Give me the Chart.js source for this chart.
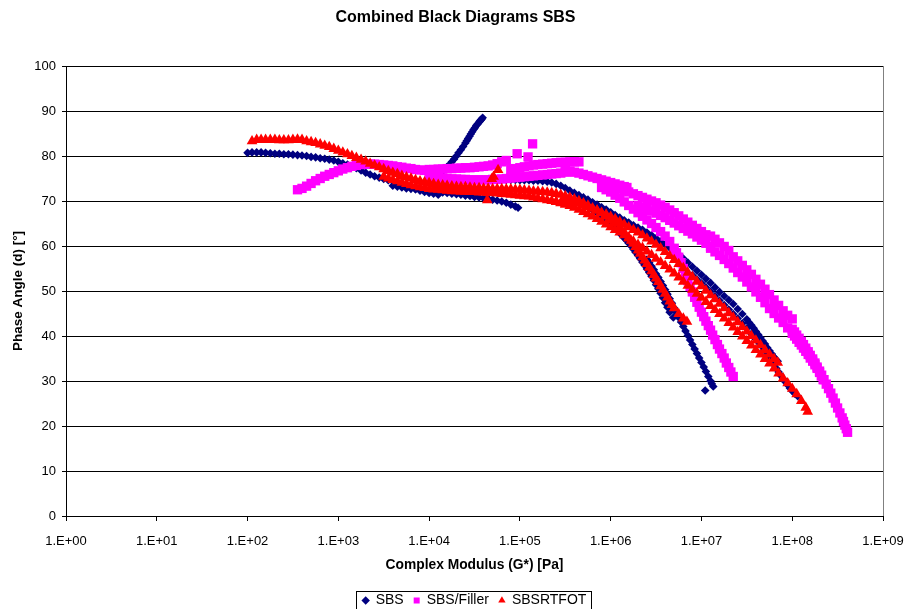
<!DOCTYPE html>
<html>
<head>
<meta charset="utf-8">
<script src="https://cdn.jsdelivr.net/npm/chart.js@4.4.1/dist/chart.umd.min.js"></script>
<style>html,body{margin:0;padding:0;background:#fff;}canvas{display:block;}</style>
</head>
<body>
<canvas id="c" width="907" height="609"></canvas>
<script>
// ---------- data (Complex modulus G* [Pa], phase angle [deg]) ----------
const chartTitle = 'Combined Black Diagrams SBS';
const xAxisTitle = 'Complex Modulus (G*) [Pa]';
const yAxisTitle = 'Phase Angle (d) [°]';
const seriesNames = ['SBS', 'SBS/Filler', 'SBSRTFOT'];
const xTickValues = [1e0, 1e1, 1e2, 1e3, 1e4, 1e5, 1e6, 1e7, 1e8, 1e9];
const yRange = [0, 100, 10];

// SBS
const sbsSeg1 = [[1.00e2,80.7],[1.12e2,80.8],[1.26e2,80.8],[1.41e2,80.8],[1.58e2,80.7],[1.78e2,80.6],[2.00e2,80.5],[2.24e2,80.5],[2.51e2,80.4],[2.82e2,80.4],[3.16e2,80.3],[3.55e2,80.2],[3.98e2,80.1],[4.47e2,80.0],[5.01e2,79.8],[5.62e2,79.7],[6.31e2,79.5],[7.08e2,79.4],[7.94e2,79.2],[8.91e2,79.0],[1.00e3,78.7],[1.12e3,78.4],[1.26e3,78.1],[1.41e3,77.7],[1.58e3,77.3],[1.78e3,76.8],[2.00e3,76.3],[2.24e3,75.9],[2.51e3,75.5],[2.82e3,75.2],[3.16e3,74.9],[3.55e3,74.6],[3.98e3,74.4],[4.47e3,74.2],[5.01e3,73.8],[5.62e3,73.4],[6.31e3,73.0],[7.08e3,72.6],[7.94e3,72.3],[8.91e3,72.0],[1.00e4,71.8],[1.12e4,71.6],[1.26e4,71.4]];
const sbsSeg2 = [[3.98e3,73.4],[4.47e3,73.2],[5.01e3,73.0],[5.62e3,72.8],[6.31e3,72.7],[7.08e3,72.6],[7.94e3,72.5],[8.91e3,72.4],[1.00e4,72.3],[1.12e4,72.2],[1.26e4,72.0],[1.41e4,71.9],[1.58e4,71.8],[1.78e4,71.6],[2.00e4,71.5],[2.24e4,71.4],[2.51e4,71.2],[2.82e4,71.1],[3.16e4,70.9],[3.55e4,70.8],[3.98e4,70.6],[4.47e4,70.5],[5.01e4,70.3],[5.62e4,70.1],[6.31e4,69.9],[7.08e4,69.6],[7.94e4,69.2],[8.91e4,68.8],[9.55e4,68.5]];
const sbsSeg3 = [[1.00e4,74.0],[1.12e4,74.8],[1.26e4,75.7],[1.41e4,76.6],[1.58e4,77.6],[1.68e4,78.1],[1.78e4,78.7],[1.88e4,79.3],[2.00e4,80.0],[2.11e4,80.7],[2.24e4,81.4],[2.37e4,82.1],[2.51e4,82.9],[2.60e4,83.4],[2.69e4,83.9],[2.79e4,84.4],[2.88e4,84.9],[2.99e4,85.4],[3.09e4,85.9],[3.20e4,86.3],[3.31e4,86.8],[3.43e4,87.1],[3.55e4,87.5],[3.63e4,87.8],[3.72e4,88.0],[3.80e4,88.2],[3.89e4,88.5]];
const sbsSeg4 = [[5.01e4,74.7],[5.62e4,74.7],[6.31e4,74.7],[7.08e4,74.7],[7.94e4,74.7],[8.91e4,74.7],[1.00e5,74.6],[1.12e5,74.6],[1.26e5,74.6],[1.41e5,74.5],[1.58e5,74.5],[1.78e5,74.4],[2.00e5,74.3],[2.24e5,74.1],[2.51e5,73.8],[2.82e5,73.4],[3.16e5,72.9],[3.55e5,72.3],[3.98e5,71.8],[4.47e5,71.3],[5.01e5,70.8],[5.62e5,70.3],[6.31e5,69.7],[7.08e5,69.2],[7.94e5,68.6],[8.91e5,68.1],[1.00e6,67.5],[1.12e6,66.9],[1.26e6,66.3],[1.41e6,65.7],[1.58e6,65.2],[1.78e6,64.6],[2.00e6,64.1],[2.24e6,63.6],[2.51e6,63.0],[2.82e6,62.4],[3.16e6,61.7],[3.55e6,61.0],[3.98e6,60.3],[4.47e6,59.6],[5.01e6,58.9],[5.62e6,58.1],[6.31e6,57.2],[7.08e6,56.3],[7.94e6,55.4],[8.91e6,54.5],[1.00e7,53.6],[1.12e7,52.7],[1.26e7,51.8],[1.41e7,50.8],[1.58e7,49.8],[1.78e7,48.9],[2.00e7,48.0],[2.24e7,47.1],[2.51e7,46.0],[2.82e7,44.9],[3.16e7,43.7],[3.35e7,43.0],[3.55e7,42.4],[3.76e7,41.7],[3.98e7,41.0],[4.22e7,40.3],[4.47e7,39.6],[4.73e7,38.9],[5.01e7,38.2],[5.31e7,37.4],[5.62e7,36.7],[5.96e7,36.0],[6.31e7,35.3],[6.61e7,34.8],[6.92e7,34.4]];
const sbsSeg5 = [[7.94e6,53.5],[8.91e6,52.6],[1.00e7,51.7],[1.12e7,50.8],[1.26e7,49.9],[1.41e7,48.9],[1.58e7,47.9],[1.78e7,46.9],[2.00e7,45.9],[2.24e7,44.9],[2.51e7,43.9],[2.82e7,42.8],[3.16e7,41.7],[3.55e7,40.5],[3.76e7,39.9],[3.98e7,39.3],[4.22e7,38.7],[4.47e7,38.1],[4.73e7,37.5],[5.01e7,36.8],[5.31e7,36.0],[5.62e7,35.2],[5.96e7,34.4],[6.31e7,33.6],[6.68e7,32.8],[7.08e7,32.0],[7.50e7,31.2],[7.94e7,30.5],[8.41e7,29.8],[8.91e7,29.1],[9.44e7,28.4],[1.00e8,27.8],[1.07e8,27.2],[1.15e8,26.6]];
const sbsSeg6 = [[6.31e5,68.0],[7.08e5,67.4],[7.94e5,66.7],[8.91e5,65.9],[1.00e6,64.9],[1.12e6,63.9],[1.26e6,62.9],[1.33e6,62.4],[1.41e6,61.8],[1.50e6,61.2],[1.58e6,60.6],[1.68e6,60.0],[1.78e6,59.3],[1.88e6,58.6],[2.00e6,57.9],[2.11e6,57.2],[2.24e6,56.4],[2.37e6,55.7],[2.51e6,54.9],[2.66e6,54.1],[2.82e6,53.3],[2.99e6,52.4],[3.16e6,51.4],[3.35e6,50.5],[3.55e6,49.5],[3.76e6,48.5],[3.98e6,47.4],[4.22e6,46.4],[4.47e6,45.3],[4.90e6,44.1]];
const sbsSeg7 = [[2.51e6,57.0],[2.66e6,56.3],[2.82e6,55.5],[2.99e6,54.7],[3.16e6,53.8],[3.35e6,53.0],[3.55e6,52.1],[3.76e6,51.2],[3.98e6,50.3],[4.22e6,49.3],[4.47e6,48.3],[4.73e6,47.3],[5.01e6,46.2],[5.31e6,45.2],[5.62e6,44.1],[5.96e6,43.1],[6.31e6,42.1],[6.68e6,41.1],[7.08e6,40.1],[7.50e6,39.1],[7.94e6,38.1],[8.41e6,37.1],[8.91e6,36.1],[9.44e6,35.1],[1.00e7,34.1],[1.06e7,33.1],[1.12e7,32.1],[1.19e7,31.0],[1.26e7,30.0],[1.30e7,29.4],[1.35e7,28.8],[1.10e7,27.9]];

// SBS/Filler
const filSeg1 = [[3.55e2,72.5],[3.98e2,72.8],[4.47e2,73.3],[5.01e2,73.9],[5.62e2,74.5],[6.31e2,75.0],[7.08e2,75.5],[7.94e2,75.9],[8.91e2,76.3],[1.00e3,76.7],[1.12e3,77.1],[1.26e3,77.4],[1.41e3,77.7],[1.58e3,77.9],[1.78e3,78.1],[2.00e3,78.2],[2.24e3,78.2],[2.51e3,78.2],[2.82e3,78.1],[3.16e3,78.0],[3.55e3,77.9],[3.98e3,77.8],[4.47e3,77.6],[5.01e3,77.5],[5.62e3,77.3],[6.31e3,77.2],[7.08e3,77.0],[7.94e3,76.9],[8.91e3,76.8],[1.00e4,76.7]];
const filSeg2 = [[1.00e4,77.0],[1.12e4,77.0],[1.26e4,77.1],[1.41e4,77.1],[1.58e4,77.2],[1.78e4,77.2],[2.00e4,77.3],[2.24e4,77.3],[2.51e4,77.4],[2.82e4,77.4],[3.16e4,77.5],[3.55e4,77.6],[3.98e4,77.7],[4.47e4,77.8],[5.01e4,78.0],[5.62e4,78.3],[6.31e4,78.7],[7.08e4,79.0],[9.33e4,80.5],[1.23e5,79.8],[1.38e5,82.7]];
const filSeg3 = [[1.00e4,75.4],[1.12e4,75.3],[1.26e4,75.2],[1.41e4,75.1],[1.58e4,75.0],[1.78e4,74.9],[2.00e4,74.9],[2.24e4,74.8],[2.51e4,74.8],[2.82e4,74.7],[3.16e4,74.7],[3.55e4,74.7],[3.98e4,74.7],[4.47e4,74.7],[5.01e4,74.8],[5.62e4,74.8],[6.31e4,74.9],[7.08e4,75.0],[7.94e4,75.1],[8.91e4,75.2],[1.00e5,75.3],[1.12e5,75.4],[1.26e5,75.5],[1.41e5,75.6],[1.58e5,75.7],[1.78e5,75.8],[2.00e5,75.9],[2.24e5,76.0],[2.51e5,76.1],[2.82e5,76.2],[3.16e5,76.4],[3.55e5,76.6]];
const filSeg4 = [[7.94e4,77.0],[8.91e4,77.2],[1.00e5,77.4],[1.12e5,77.6],[1.26e5,77.8],[1.41e5,78.0],[1.58e5,78.1],[1.78e5,78.2],[2.00e5,78.3],[2.24e5,78.4],[2.51e5,78.5],[2.82e5,78.6],[3.16e5,78.6],[3.55e5,78.7],[3.98e5,78.7],[4.47e5,78.7]];
const filSeg5 = [[3.16e5,76.8],[3.55e5,76.6],[3.98e5,76.4],[4.47e5,76.2],[5.01e5,75.9],[5.62e5,75.6],[6.31e5,75.3],[7.08e5,75.0],[7.94e5,74.7],[8.91e5,74.4],[1.00e6,74.1],[1.12e6,73.8],[1.26e6,73.5],[1.41e6,73.2],[1.51e6,73.0]];
const filSeg6 = [[1.00e6,73.3],[1.12e6,73.0],[1.26e6,72.7],[1.41e6,72.4],[1.58e6,72.0],[1.78e6,71.6],[2.00e6,71.2],[2.24e6,70.8],[2.51e6,70.4],[2.82e6,70.0],[3.16e6,69.6],[3.55e6,69.1],[3.98e6,68.6],[4.47e6,68.0],[5.01e6,67.4],[5.62e6,66.7],[6.31e6,66.0],[7.08e6,65.3],[7.94e6,64.6],[8.91e6,63.9],[1.00e7,63.2],[1.12e7,62.5],[1.26e7,62.2],[1.41e7,61.5],[1.58e7,60.7],[1.78e7,59.9],[2.00e7,59.0],[2.24e7,57.6],[2.51e7,56.7],[2.82e7,55.7],[3.16e7,54.7],[3.55e7,53.7],[3.98e7,52.6],[4.47e7,51.5],[5.01e7,50.4],[5.62e7,49.2],[6.31e7,48.0],[7.08e7,46.8],[7.94e7,45.6],[8.91e7,44.6],[1.00e8,43.8]];
const filSeg7 = [[1.26e7,59.5],[1.41e7,58.7],[1.58e7,57.9],[1.78e7,57.0],[2.00e7,56.1],[2.24e7,55.1],[2.51e7,54.1],[2.82e7,53.1],[3.16e7,52.0],[3.55e7,50.9],[3.98e7,49.8],[4.47e7,48.6],[5.01e7,47.4],[5.62e7,46.1],[6.31e7,45.0],[7.08e7,44.0],[7.94e7,43.0],[8.91e7,41.8],[1.00e8,40.6],[1.06e8,40.0],[1.12e8,39.3],[1.19e8,38.6],[1.26e8,38.0],[1.33e8,37.3],[1.41e8,36.6],[1.50e8,35.9],[1.58e8,35.1],[1.68e8,34.4],[1.78e8,33.6],[1.88e8,32.8],[2.00e8,31.9],[2.09e8,31.1],[2.19e8,30.3]];
const filSeg8 = [[1.00e8,41.5],[1.06e8,40.9],[1.12e8,40.2],[1.19e8,39.5],[1.26e8,38.8],[1.33e8,38.1],[1.41e8,37.3],[1.50e8,36.5],[1.58e8,35.7],[1.68e8,34.9],[1.78e8,34.0],[1.88e8,33.1],[2.00e8,32.2],[2.11e8,31.3],[2.24e8,30.3],[2.37e8,29.3],[2.51e8,28.3],[2.66e8,27.3],[2.82e8,26.2],[2.99e8,25.1],[3.16e8,24.0],[3.35e8,22.9],[3.55e8,21.8],[3.67e8,21.0],[3.80e8,20.2],[3.94e8,19.4],[4.07e8,18.6]];
const filSeg9 = [[7.94e5,73.0],[8.91e5,72.5],[1.00e6,72.0],[1.12e6,71.3],[1.26e6,70.6],[1.41e6,69.8],[1.58e6,69.0],[1.78e6,68.2],[2.00e6,67.4],[2.24e6,66.6],[2.51e6,65.8],[2.82e6,65.0],[3.16e6,64.1],[3.55e6,63.2],[3.98e6,62.2],[4.47e6,61.0],[5.01e6,59.5],[5.31e6,58.5],[5.62e6,57.5],[5.96e6,56.3],[6.31e6,55.0],[6.68e6,53.6],[7.08e6,52.3],[7.50e6,51.0],[7.94e6,49.8],[8.41e6,48.6],[8.91e6,47.5],[9.44e6,46.4],[1.00e7,45.3],[1.06e7,44.3],[1.12e7,43.3],[1.19e7,42.3],[1.26e7,41.3],[1.33e7,40.2],[1.41e7,39.2],[1.50e7,38.1],[1.58e7,37.1],[1.68e7,36.1],[1.78e7,35.1],[1.88e7,34.0],[2.00e7,33.0],[2.11e7,32.0],[2.24e7,31.0]];
const filSeg10 = [[2.00e6,69.0],[2.24e6,68.6],[2.51e6,68.2],[2.82e6,67.8],[3.16e6,67.3],[3.55e6,66.8],[3.98e6,66.3],[4.47e6,65.7],[5.01e6,65.1],[5.62e6,64.5],[6.31e6,63.9],[7.08e6,63.3],[7.94e6,62.7],[8.91e6,62.0],[1.00e7,61.3],[1.12e7,60.6],[1.26e7,59.9]];

// SBSRTFOT
const rtfSeg1 = [[1.12e2,83.3],[1.26e2,83.6],[1.41e2,83.6],[1.58e2,83.6],[1.78e2,83.6],[2.00e2,83.6],[2.24e2,83.5],[2.51e2,83.5],[2.82e2,83.5],[3.16e2,83.6],[3.55e2,83.7],[3.98e2,83.6],[4.47e2,83.3],[5.01e2,83.1],[5.62e2,82.9],[6.31e2,82.6],[7.08e2,82.3],[7.94e2,82.0],[8.91e2,81.6],[1.00e3,81.2],[1.12e3,80.8],[1.26e3,80.4],[1.41e3,80.0],[1.58e3,79.6],[1.78e3,79.2],[2.00e3,78.8],[2.24e3,78.3],[2.51e3,77.9],[2.82e3,77.5],[3.16e3,77.1],[3.55e3,76.7],[3.98e3,76.3],[4.47e3,76.0],[5.01e3,75.6],[5.62e3,75.3],[6.31e3,75.0],[7.08e3,74.7],[7.94e3,74.4],[8.91e3,74.2],[1.00e4,74.0],[1.12e4,73.8],[1.26e4,73.6],[1.41e4,73.5],[1.58e4,73.4],[1.78e4,73.3],[2.00e4,73.2],[2.24e4,73.1],[2.51e4,73.1]];
const rtfSeg2 = [[2.82e4,73.0],[3.16e4,72.9],[3.55e4,72.9],[3.98e4,72.8],[4.47e4,72.8],[5.01e4,72.7],[5.62e4,72.7],[6.31e4,72.7],[7.08e4,72.6],[7.94e4,72.6],[8.91e4,72.5],[1.00e5,72.5],[1.12e5,72.4],[1.26e5,72.3],[1.41e5,72.2],[1.58e5,72.1],[1.78e5,72.0],[2.00e5,71.9],[2.24e5,71.8],[2.51e5,71.6],[2.82e5,71.4],[3.16e5,71.1],[3.55e5,70.8],[3.98e5,70.4],[4.47e5,70.0],[5.01e5,69.5],[5.62e5,69.0],[6.31e5,68.4],[7.08e5,67.9],[7.94e5,67.4],[8.91e5,67.0],[1.00e6,66.5],[1.12e6,66.0],[1.26e6,65.4],[1.41e6,64.8],[1.58e6,64.2],[1.78e6,63.6],[2.00e6,63.0],[2.24e6,62.4],[2.51e6,61.7],[2.82e6,61.0],[3.16e6,60.3],[3.55e6,59.5],[3.98e6,58.7],[4.47e6,57.8],[5.01e6,56.9],[5.62e6,56.0],[6.31e6,55.1],[7.08e6,54.1],[7.94e6,53.1],[8.91e6,52.1],[1.00e7,51.1],[1.12e7,50.1],[1.26e7,49.1],[1.41e7,48.2],[1.58e7,47.2],[1.78e7,46.2],[2.00e7,45.1],[2.24e7,44.1],[2.51e7,43.1],[2.82e7,42.0],[3.16e7,41.0],[3.55e7,40.0],[3.98e7,39.0],[4.47e7,38.0],[5.01e7,36.9],[5.62e7,35.9],[6.31e7,34.9],[6.92e7,34.1]];
const rtfSeg3 = [[3.16e3,75.4],[3.55e3,75.0],[3.98e3,74.7],[4.47e3,74.4],[5.01e3,74.1],[5.62e3,73.8],[6.31e3,73.5],[7.08e3,73.3],[7.94e3,73.1],[8.91e3,72.9],[1.00e4,72.7],[1.12e4,72.6],[1.26e4,72.5],[1.41e4,72.4],[1.58e4,72.3],[1.78e4,72.2],[2.00e4,72.2],[2.24e4,72.1],[2.51e4,72.1],[2.82e4,72.0],[3.16e4,72.0],[3.55e4,71.9],[3.98e4,71.9],[4.47e4,71.8],[5.01e4,71.8],[5.62e4,71.7],[6.31e4,71.6],[7.08e4,71.5],[7.94e4,71.4],[8.91e4,71.3],[1.00e5,71.2],[1.12e5,71.1],[1.26e5,71.0],[1.41e5,70.8],[1.58e5,70.6],[1.78e5,70.4],[2.00e5,70.2],[2.24e5,70.0],[2.51e5,69.8],[2.82e5,69.6],[3.16e5,69.4]];
const rtfSeg4 = [[4.37e4,70.2],[4.90e4,74.9],[5.13e4,75.4],[5.75e4,76.9]];
const rtfSeg5 = [[2.51e5,69.8],[2.82e5,69.5],[3.16e5,69.2],[3.55e5,68.9],[3.98e5,68.5],[4.47e5,68.1],[5.01e5,67.6],[5.62e5,67.1],[6.31e5,66.6],[7.08e5,66.0],[7.94e5,65.4],[8.91e5,64.8],[1.00e6,64.2],[1.12e6,63.6],[1.26e6,63.0],[1.41e6,62.4],[1.58e6,61.7],[1.78e6,61.0],[2.00e6,60.3],[2.24e6,59.6],[2.51e6,58.8],[2.82e6,58.0],[3.16e6,57.2],[3.55e6,56.4],[3.98e6,55.6],[4.47e6,54.8],[5.01e6,53.9],[5.62e6,53.0],[6.31e6,52.1],[7.08e6,51.2],[7.94e6,50.3],[8.91e6,49.4],[1.00e7,48.5],[1.12e7,47.6],[1.26e7,46.7],[1.41e7,45.8],[1.58e7,44.9],[1.78e7,43.9],[2.00e7,42.9],[2.24e7,41.9],[2.51e7,40.9],[2.82e7,39.9],[3.16e7,38.9],[3.55e7,37.9],[3.98e7,36.9],[4.47e7,35.9],[5.01e7,34.9],[5.62e7,33.9],[6.31e7,32.8],[7.08e7,31.7],[7.94e7,30.6],[8.91e7,29.5],[1.00e8,28.3],[1.12e8,27.1],[1.26e8,25.6],[1.41e8,24.1],[1.48e8,23.2]];
const rtfSeg6 = [[3.16e5,70.4],[3.55e5,70.1],[3.98e5,69.8],[4.47e5,69.5],[5.01e5,69.1],[5.62e5,68.7],[6.31e5,68.3],[7.08e5,67.9],[7.94e5,67.3],[8.91e5,66.6],[1.00e6,65.8],[1.12e6,65.0],[1.26e6,64.1],[1.41e6,63.1],[1.58e6,61.9],[1.68e6,61.2],[1.78e6,60.5],[1.88e6,59.8],[2.00e6,59.0],[2.11e6,58.3],[2.24e6,57.5],[2.37e6,56.8],[2.51e6,56.0],[2.66e6,55.2],[2.82e6,54.4],[2.99e6,53.6],[3.16e6,52.8],[3.35e6,52.0],[3.55e6,51.1],[3.76e6,50.3],[3.98e6,49.4],[4.22e6,48.6],[4.47e6,47.7],[4.73e6,46.9],[5.01e6,46.2],[5.62e6,44.9],[6.31e6,43.9],[6.92e6,43.2]];

// ---------- chart ----------
const toPoints = segs => segs.flat().map(([x, y]) => ({x, y}));
const FONT = "'Liberation Sans', Arial, Helvetica, sans-serif";

const framePlugin = {
  id: 'frame',
  afterLayout(chart) {
    if (chart.legend) { chart.legend.left += 33; chart.legend.right += 33; }
    if (chart.titleBlock) { chart.titleBlock.left += 14; chart.titleBlock.right += 14; }
  },
  beforeDatasetsDraw(chart) {
    const {ctx, chartArea: a} = chart;
    ctx.save();
    ctx.strokeStyle = '#808080';
    ctx.lineWidth = 1;
    const x = Math.round(a.right) + 0.5;
    ctx.beginPath();
    ctx.moveTo(x, Math.round(a.top));
    ctx.lineTo(x, Math.round(a.bottom));
    ctx.stroke();
    ctx.restore();
  },
  afterDraw(chart) {
    const lg = chart.legend;
    if (!lg || !lg.legendHitBoxes || !lg.legendHitBoxes.length) return;
    const hb = lg.legendHitBoxes;
    const left = Math.min(...hb.map(h => h.left)) - 7;
    const right = Math.max(...hb.map(h => h.left + h.width)) + 4;
    const top = Math.min(...hb.map(h => h.top)) - 3;
    const bottom = Math.max(...hb.map(h => h.top + h.height)) + 4;
    const ctx = chart.ctx;
    ctx.save();
    ctx.strokeStyle = '#000';
    ctx.lineWidth = 1;
    ctx.strokeRect(Math.round(left) + 0.5, Math.round(top) + 0.5, Math.round(right - left), Math.round(bottom - top));
    ctx.restore();
  }
};

new Chart(document.getElementById('c'), {
  type: 'scatter',
  data: {
    datasets: [
      {
        label: seriesNames[0],
        data: toPoints([sbsSeg1, sbsSeg2, sbsSeg3, sbsSeg4, sbsSeg5, sbsSeg6, sbsSeg7]),
        pointStyle: 'rectRot', pointRadius: 4.3,
        pointBackgroundColor: '#000080', pointBorderColor: '#000080', pointBorderWidth: 0,
        backgroundColor: '#000080', borderColor: '#000080',
        order: 2
      },
      {
        label: seriesNames[1],
        data: toPoints([filSeg1, filSeg2, filSeg3, filSeg4, filSeg5, filSeg6, filSeg10, filSeg7, filSeg8, filSeg9]),
        pointStyle: 'rect', pointRadius: 6.6,
        pointBackgroundColor: '#FF00FF', pointBorderColor: '#FF00FF', pointBorderWidth: 0,
        backgroundColor: '#FF00FF', borderColor: '#FF00FF',
        order: 1
      },
      {
        label: seriesNames[2],
        data: toPoints([rtfSeg1, rtfSeg2, rtfSeg3, rtfSeg4, rtfSeg5, rtfSeg6]),
        pointStyle: 'triangle', pointRadius: 6.2,
        pointBackgroundColor: '#FF0000', pointBorderColor: '#FF0000', pointBorderWidth: 0,
        backgroundColor: '#FF0000', borderColor: '#FF0000',
        order: 0
      }
    ]
  },
  options: {
    responsive: false,
    animation: false,
    devicePixelRatio: 1,
    events: [],
    layout: {padding: {left: 0, right: 24, top: 0, bottom: -8.5}},
    plugins: {
      title: {
        display: true, text: chartTitle, color: '#000',
        font: {family: FONT, size: 16, weight: 'bold'},
        padding: {top: 8, bottom: 38.8}
      },
      legend: {
        position: 'bottom',
        labels: {
          usePointStyle: true, boxWidth: 6, boxHeight: 6, padding: 10, color: '#000',
          font: {family: FONT, size: 14},
          sort: (a, b) => a.datasetIndex - b.datasetIndex
        }
      },
      tooltip: {enabled: false}
    },
    scales: {
      x: {
        type: 'logarithmic',
        min: xTickValues[0], max: xTickValues[xTickValues.length - 1],
        afterBuildTicks: axis => { axis.ticks = xTickValues.map(v => ({value: v})); },
        afterFit: axis => { axis.height = 67.5; axis.paddingRight = 0; axis.paddingLeft = 0; },
        ticks: {
          autoSkip: false, maxRotation: 0, padding: 13, color: '#000',
          font: {family: FONT, size: 13},
          callback: v => '1.E+' + String(Math.round(Math.log10(v))).padStart(2, '0')
        },
        grid: {drawOnChartArea: false, drawTicks: true, tickLength: 5, color: '#000', lineWidth: 1},
        border: {display: true, color: '#000', width: 1},
        title: {display: true, text: xAxisTitle, color: '#000', font: {family: FONT, size: 13.8, weight: 'bold'}, padding: {top: 0, bottom: 10}}
      },
      y: {
        min: yRange[0], max: yRange[1],
        afterFit: axis => { axis.width = 66; },
        ticks: {stepSize: yRange[2], padding: 6, color: '#000', font: {family: FONT, size: 13}},
        grid: {drawOnChartArea: true, drawTicks: true, tickLength: 4, color: '#000', lineWidth: 1},
        border: {display: true, color: '#000', width: 1},
        title: {display: true, text: yAxisTitle, color: '#000', font: {family: FONT, size: 13.5, weight: 'bold'}, padding: {top: 10, bottom: 0}}
      }
    }
  },
  plugins: [framePlugin]
});
</script>
</body>
</html>
